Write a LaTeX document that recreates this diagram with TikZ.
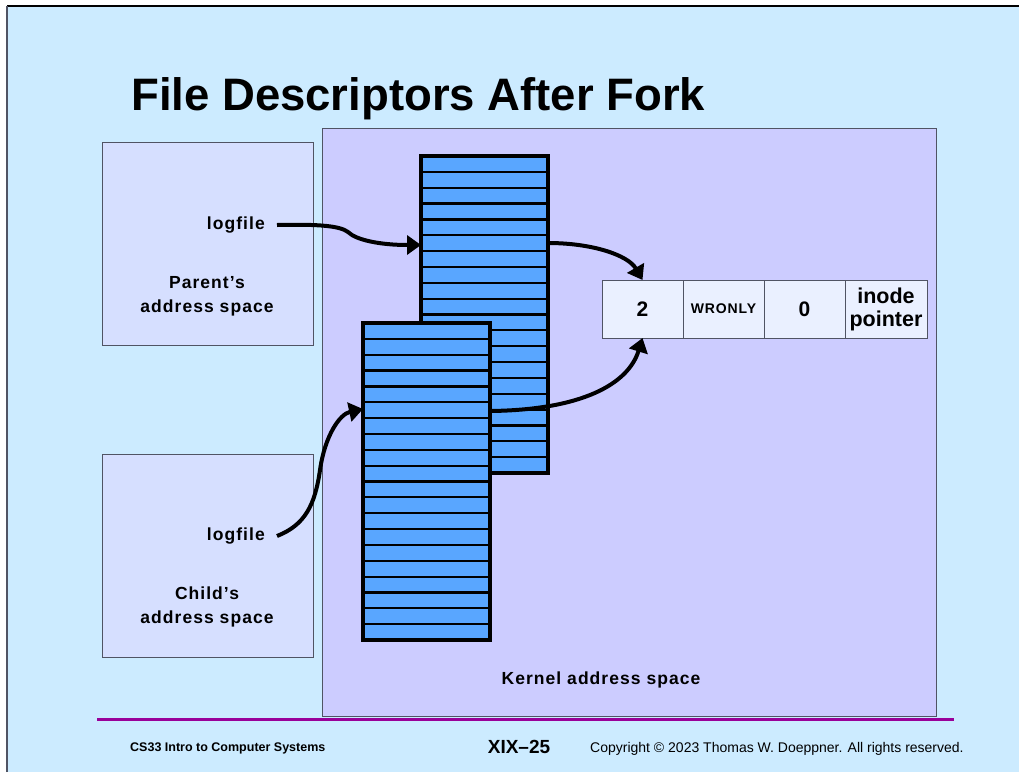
\documentclass[tikz,border=0pt]{standalone}
\usepackage{fontspec}
\setmainfont{Liberation Sans}
\newfontfamily\lblfont[LetterSpace=6]{Liberation Sans}
\usetikzlibrary{arrows.meta}
\definecolor{bgblue}{RGB}{204,235,255}
\definecolor{kernfill}{RGB}{204,204,255}
\definecolor{addrfill}{RGB}{214,223,255}
\definecolor{tabfill}{RGB}{89,166,255}
\definecolor{cellfill}{RGB}{234,240,255}
\definecolor{edgegray}{RGB}{80,84,100}
\definecolor{footpurple}{RGB}{153,0,153}
\begin{document}
\begin{tikzpicture}[x=1pt,y=-1pt,
  kbox/.style={draw=edgegray,fill=kernfill,line width=1pt,outer sep=0pt,anchor=north west},
  abox/.style={draw=edgegray,fill=addrfill,line width=1pt,outer sep=0pt,anchor=north west,minimum width=211pt,minimum height=203pt},
  fdtab/.style={draw=black,fill=tabfill,line width=3.5pt,outer sep=0pt,anchor=north west,minimum width=127pt,minimum height=317pt},
  rowline/.style={draw=black,line width=2.2pt},
  cell/.style={draw=edgegray,fill=cellfill,line width=0.9pt,outer sep=0pt,anchor=north west,minimum height=58pt,inner sep=0pt,align=center},
  lbl/.style={font=\lblfont\bfseries\fontsize{17.5}{24}\selectfont,inner sep=0pt,align=center},
  conn/.style={line width=4pt,-{Triangle[length=14pt,width=19pt]}},
]
\useasboundingbox (0,0) rectangle (1019,772);
\fill[white] (0,0) rectangle (1019,772);
\fill[bgblue] (7,6) rectangle (1019,772);
\draw[black,line width=2pt] (7,6) -- (1019,6);
\draw[edgegray,line width=1.5pt] (7,772) -- (7,6);

% title
\node[anchor=base west,inner sep=0pt,font=\bfseries\fontsize{45.5}{48}\selectfont] (title) at (131,110) {File Descriptors After Fork};

% kernel space
\node[kbox,minimum width=614pt,minimum height=588pt] (kern) at (322,128) {};
\node[lbl] (kernlbl) at (601,680) {Kernel address space};

% address spaces
\node[abox] (pbox) at (102,142) {};
\node[abox] (cbox) at (102,454) {};
\node[lbl] (plbl) at (207,296) {Parent’s\\address space};
\node[lbl] (clbl) at (207,607) {Child’s\\address space};
\node[lbl,anchor=east,inner xsep=12pt] (plog) at (277,225) {logfile};
\node[lbl,anchor=east,inner xsep=12pt] (clog) at (277,536) {logfile};

% descriptor tables
\node[fdtab] (ptab) at (421,156) {};
\foreach \i in {1,...,19}{
  \draw[rowline] ([yshift=-\i*15.85pt]ptab.north west) -- ([yshift=-\i*15.85pt]ptab.north east);
}
\node[fdtab] (ctab) at (363,323) {};
\foreach \i in {1,...,19}{
  \draw[rowline] ([yshift=-\i*15.85pt]ctab.north west) -- ([yshift=-\i*15.85pt]ctab.north east);
}

% open file entry
\node[cell,minimum width=81pt,font=\bfseries\fontsize{21}{21}\selectfont] (f2) at (602,280) {2};
\node[cell,minimum width=81pt,font=\lblfont\bfseries\fontsize{14}{14}\selectfont] (fw) at (683,280) {WRONLY};
\node[cell,minimum width=81pt,font=\bfseries\fontsize{21}{21}\selectfont] (f0) at (764,280) {0};
\node[cell,minimum width=82pt,font=\bfseries\fontsize{21.5}{23}\selectfont] (fi) at (845,280) {inode\\pointer};

% connectors
\draw[conn] (plog.east) .. controls (320,224) and (340,226) .. (348,232)
  .. controls (356,240) and (380,245) .. ([yshift=-89pt]ptab.north west);
\draw[conn] ([yshift=-87pt]ptab.north east) .. controls (592,243) and (628,255) .. (f2.north);
\draw[conn] (clog.east) .. controls (305,525) and (315,505) .. (320,470)
  .. controls (325,435) and (340,414) .. ([yshift=-86pt]ctab.north west);
\draw[conn] ([yshift=-88pt]ctab.north east) .. controls (580,410) and (628,385) .. (f2.south);

% footer
\draw[footpurple,line width=3pt] (97,719) -- (954,719);
\node[anchor=base west,inner sep=0pt,font=\bfseries\fontsize{12.5}{14}\selectfont] (course) at (130,751) {CS33 Intro to Computer Systems};
\node[anchor=base,inner sep=0pt,font=\bfseries\fontsize{19}{20}\selectfont] (slide) at (519,753) {XIX–25};
\node[anchor=base west,inner sep=0pt,font=\fontsize{14}{16}\selectfont] (copy) at (590,752) {Copyright © 2023 Thomas W. Doeppner. All rights reserved.};
\end{tikzpicture}
\end{document}
